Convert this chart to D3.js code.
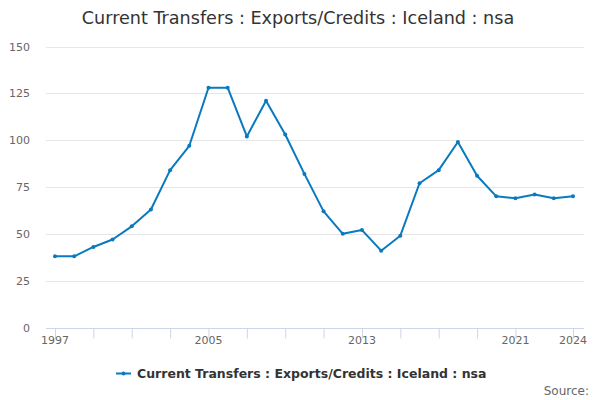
<!DOCTYPE html>
<html><head><meta charset="utf-8">
<script src="https://cdn.jsdelivr.net/npm/d3@7"></script>
<style>body{margin:0;background:#fff}svg{display:block;font-family:"DejaVu Sans",sans-serif}</style>
</head><body><svg id="c" width="600" height="400"></svg>
<script>
const years = [1997,1998,1999,2000,2001,2002,2003,2004,2005,2006,2007,2008,2009,2010,2011,2012,2013,2014,2015,2016,2017,2018,2019,2020,2021,2022,2023,2024];
const values = [38,38,43,47,54,63,84,97,128,128,102,121,103,82,62,50,52,41,49,77,84,99,81,70,69,71,69,70];
const yTicks = [0,25,50,75,100,125,150];
const xTickMarks = [1997,1999,2001,2003,2005,2007,2009,2011,2013,2015,2017,2019,2021,2024];
const xTickLabels = [1997,2005,2013,2021,2024];
const title = "Current Transfers : Exports/Credits : Iceland : nsa";
const seriesName = "Current Transfers : Exports/Credits : Iceland : nsa";

const svg = d3.select("#c");
const color = "#0a7abf";
const L = 46, R = 584, T = 46.5, B = 327.5;
const x = d3.scaleLinear().domain([1997,2024]).range([55,573]);
const y = d3.scaleLinear().domain([0,150]).range([B,T]);

svg.append("text").attr("x",298).attr("y",24).attr("text-anchor","middle")
  .attr("font-size",17.6).attr("fill","#333").text(title);

// grid
svg.append("g").selectAll("line").data(yTicks.filter(d=>d>0)).join("line")
  .attr("x1",L).attr("x2",R).attr("y1",d=>Math.round(y(d))+0.5).attr("y2",d=>Math.round(y(d))+0.5)
  .attr("stroke","#e6e6e6").attr("stroke-width",1);
svg.append("g").selectAll("text").data(yTicks).join("text")
  .attr("x",30).attr("y",d=>y(d)+4).attr("text-anchor","end")
  .attr("font-size",11).attr("fill","#666").text(d=>d);

// x axis
const xAxis = d3.axisBottom(x).tickValues(xTickMarks).tickSize(10).tickFormat("");
const gx = svg.append("g").attr("transform",`translate(0,${Math.round(B)+0.5})`).call(xAxis);
gx.select(".domain").remove();
gx.selectAll(".tick line").attr("stroke","#ccd6eb");
gx.append("line").attr("x1",L).attr("x2",R).attr("stroke","#ccd6eb");
svg.append("g").selectAll("text").data(xTickLabels).join("text")
  .attr("x",d=>x(d)).attr("y",B+16).attr("text-anchor","middle")
  .attr("font-size",11).attr("fill","#666").text(d=>d);

// line
const pts = years.map((yr,i)=>[yr,values[i]]);
svg.append("path").datum(pts).attr("fill","none").attr("stroke",color).attr("stroke-width",2)
  .attr("stroke-linejoin","round")
  .attr("d",d3.line().x(d=>x(d[0])).y(d=>y(d[1])));
svg.append("g").selectAll("circle").data(pts).join("circle")
  .attr("cx",d=>x(d[0])).attr("cy",d=>y(d[1])).attr("r",2).attr("fill",color);

// legend
svg.append("line").attr("x1",116).attr("x2",131).attr("y1",373.5).attr("y2",373.5).attr("stroke",color).attr("stroke-width",2);
svg.append("circle").attr("cx",123.5).attr("cy",373.5).attr("r",2).attr("fill",color);
svg.append("text").attr("x",137).attr("y",378).attr("font-size",12.5).attr("font-weight","bold")
  .attr("fill","#333").text(seriesName);

svg.append("text").attr("x",589).attr("y",395).attr("text-anchor","end")
  .attr("font-size",12).attr("fill","#666").text("Source:");
</script></body></html>
